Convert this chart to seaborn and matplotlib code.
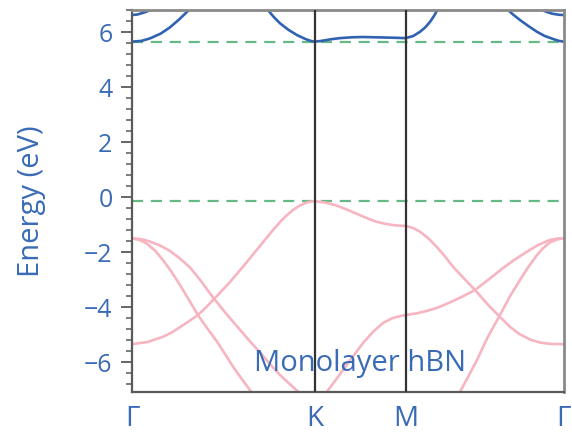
import matplotlib
matplotlib.use("Agg")
import matplotlib.pyplot as plt
from matplotlib.ticker import MultipleLocator
import seaborn as sns

# k-path high-symmetry points
kpoint_labels = ["Γ", "K", "M", "Γ"]
kpoint_pos = [0.0, 1.1547, 1.7321, 2.7321]

# reference levels (eV)
cbm_level = 5.65
vbm_level = -0.15

# valence bands
pi_k = [0.0, 0.10, 0.196, 0.25, 0.304, 0.36, 0.417, 0.465, 0.512, 0.566, 0.620, 0.673, 0.727,
        0.778, 0.829, 0.882, 0.936, 0.978, 1.018, 1.056, 1.094, 1.125, 1.155,
        1.225, 1.295, 1.370, 1.442, 1.50, 1.548, 1.60, 1.651, 1.69, 1.732,
        1.78, 1.822, 1.875, 1.927, 1.98, 2.030, 2.10, 2.170, 2.217, 2.264, 2.33, 2.391,
        2.45, 2.517, 2.58, 2.644, 2.732]
pi_e = [-5.35, -5.27, -5.08, -4.93, -4.73, -4.52, -4.29, -4.03, -3.75, -3.42, -3.09, -2.73, -2.36,
        -2.00, -1.64, -1.27, -0.91, -0.67, -0.47, -0.33, -0.22, -0.17, -0.15,
        -0.20, -0.31, -0.48, -0.66, -0.80, -0.90, -0.97, -1.02, -1.04, -1.05,
        -1.13, -1.26, -1.50, -1.81, -2.16, -2.53, -2.96, -3.38, -3.69, -3.99, -4.37, -4.72,
        -4.98, -5.18, -5.29, -5.34, -5.35]

sig1_k = [0.0, 0.057, 0.114, 0.177, 0.240, 0.30, 0.367, 0.44, 0.512, 0.59, 0.664, 0.745,
          0.829, 0.88, 0.936, 0.99, 1.044, 1.07]
sig1_e = [-1.50, -1.53, -1.62, -1.76, -1.96, -2.22, -2.56, -3.08, -3.65, -4.20, -4.70, -5.24,
          -5.78, -6.12, -6.47, -6.76, -7.04, -7.18]

sig2_k = [0.0, 0.048, 0.095, 0.146, 0.196, 0.25, 0.304, 0.36, 0.417, 0.478, 0.538, 0.59,
          0.639, 0.69, 0.746, 0.765]
sig2_e = [-1.50, -1.56, -1.70, -1.95, -2.29, -2.72, -3.20, -3.74, -4.29, -4.79, -5.26, -5.72,
          -6.17, -6.58, -7.02, -7.18]

sig3_k = [1.22, 1.233, 1.285, 1.335, 1.40, 1.461, 1.525, 1.588, 1.645, 1.695, 1.732, 1.80,
          1.859, 1.93, 2.004, 2.09, 2.170, 2.26, 2.347, 2.42, 2.498, 2.57, 2.644, 2.69, 2.732]
sig3_e = [-7.18, -7.08, -6.68, -6.29, -5.78, -5.31, -4.90, -4.58, -4.41, -4.33, -4.29, -4.23,
          -4.15, -4.03, -3.85, -3.62, -3.38, -2.98, -2.58, -2.28, -1.99, -1.74, -1.56, -1.51, -1.50]

sig4_k = [2.06, 2.075, 2.13, 2.182, 2.25, 2.328, 2.39, 2.454, 2.51, 2.562, 2.60, 2.644, 2.69, 2.732]
sig4_e = [-7.18, -7.08, -6.50, -5.93, -5.10, -4.29, -3.62, -3.02, -2.52, -2.11, -1.86, -1.65, -1.54, -1.50]

# conduction bands
cb1_k = [0.0, 0.06, 0.114, 0.18, 0.240, 0.30, 0.367, 0.38]
cb1_e = [5.65, 5.68, 5.77, 5.94, 6.17, 6.47, 6.84, 6.95]

cb2_k = [0.84, 0.854, 0.895, 0.936, 0.99, 1.044, 1.100, 1.13, 1.155, 1.20, 1.26, 1.316, 1.39,
         1.461, 1.54, 1.613, 1.68, 1.732, 1.78, 1.822, 1.855, 1.885, 1.91, 1.935, 1.945]
cb2_e = [6.95, 6.84, 6.56, 6.32, 6.08, 5.89, 5.74, 5.68, 5.65, 5.68, 5.74, 5.78, 5.81,
         5.82, 5.81, 5.80, 5.79, 5.78, 5.86, 6.01, 6.17, 6.37, 6.58, 6.84, 6.95]

cb3_k = [2.36, 2.372, 2.41, 2.454, 2.51, 2.562, 2.61, 2.663, 2.70, 2.732]
cb3_e = [6.95, 6.84, 6.64, 6.44, 6.21, 6.01, 5.86, 5.75, 5.68, 5.65]

cb4_k = [0.0, 0.035, 0.070, 0.11, 0.146, 0.16]
cb4_e = [6.62, 6.64, 6.70, 6.78, 6.88, 6.95]

cb5_k = [2.57, 2.581, 2.62, 2.657, 2.70, 2.732]
cb5_e = [6.95, 6.84, 6.74, 6.67, 6.63, 6.62]

valence = [(pi_k, pi_e), (sig1_k, sig1_e), (sig2_k, sig2_e), (sig3_k, sig3_e), (sig4_k, sig4_e)]
conduction = [(cb1_k, cb1_e), (cb2_k, cb2_e), (cb3_k, cb3_e), (cb4_k, cb4_e), (cb5_k, cb5_e)]

sns.set_theme(style="white")
plt.rcParams["font.family"] = ["Open Sans", "DejaVu Sans"]
plt.rcParams["axes.unicode_minus"] = True

text_blue = "#3A6BB6"
line_blue = "#2F62B0"
pink = "#F7B4C1"
green = "#66B886"
spine_col = "#5A5A5A"

fig = plt.figure(figsize=(5.72, 4.36), dpi=100)
ax = fig.add_axes([0.2308, 0.1009, 0.755, 0.876])

for kk, ee in valence:
    sns.lineplot(x=kk, y=ee, sort=False, estimator=None, color=pink, lw=1.9,
                 solid_joinstyle="round", solid_capstyle="round", ax=ax)
for kk, ee in conduction:
    sns.lineplot(x=kk, y=ee, sort=False, estimator=None, color=line_blue, lw=1.9,
                 solid_joinstyle="round", solid_capstyle="round", ax=ax)

for lvl in (cbm_level, vbm_level):
    ax.axhline(lvl, color=green, lw=1.6, dashes=(5, 3.5), zorder=1)

for p in kpoint_pos[1:3]:
    ax.axvline(p, color="#333333", lw=1.6, zorder=3)

ax.set_xlim(kpoint_pos[0], kpoint_pos[-1])
ax.set_ylim(-7.09, 6.8)

ax.set_xticks(kpoint_pos)
ax.set_xticklabels(kpoint_labels)
ax.tick_params(axis="x", length=0, pad=9, labelsize=20, labelcolor=text_blue)

ax.yaxis.set_major_locator(MultipleLocator(2))
ax.yaxis.set_minor_locator(MultipleLocator(0.4))
ax.tick_params(axis="y", which="major", direction="out", length=8, width=1.3,
               color=spine_col, pad=6, labelsize=18, labelcolor=text_blue, left=True)
ax.tick_params(axis="y", which="minor", direction="out", length=4, width=1.1,
               color=spine_col, left=True)

ax.set_ylabel("Energy (eV)", fontsize=21, color=text_blue, labelpad=27)
ax.set_xlabel("")

for s in ax.spines.values():
    s.set_color(spine_col)
    s.set_linewidth(1.6)
for s in ("top", "right"):
    ax.spines[s].set_color("#8A8A8A")
    ax.spines[s].set_linewidth(2.0)

ax.text(1.442, -6.05, "Monolayer hBN", fontsize=21, color=text_blue,
        ha="center", va="center", zorder=5)

fig.savefig("out.png", dpi=100)
